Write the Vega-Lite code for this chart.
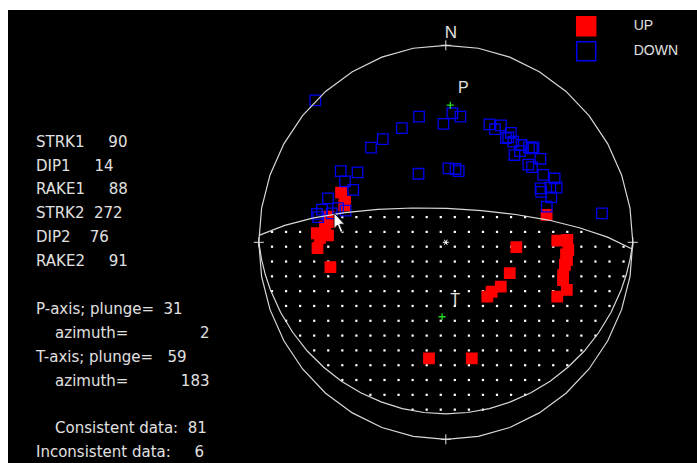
{
"$schema":"https://vega.github.io/schema/vega-lite/v6.json",
"width":697,"height":463,
"autosize":{"type":"fit","contains":"padding"},
"padding":{"left":8,"top":10,"right":0,"bottom":0},
"background":"white",
"config":{"view":{"stroke":null,"fill":"black"},"font":"Liberation Sans"},
"resolve":{"scale":{"x":"independent","y":"independent"}},
"datasets":{
"grid":[
{"r":0,"c":-8},{"r":0,"c":-7},{"r":0,"c":-6},{"r":0,"c":-5},{"r":0,"c":-4},{"r":0,"c":-3},{"r":0,"c":-2},{"r":0,"c":-1},{"r":0,"c":0},{"r":0,"c":1},{"r":0,"c":2},{"r":0,"c":3},{"r":0,"c":4},{"r":0,"c":5},{"r":0,"c":6},
{"r":1,"c":-12},{"r":1,"c":-11},{"r":1,"c":-10},{"r":1,"c":-9},{"r":1,"c":-8},{"r":1,"c":-7},{"r":1,"c":-6},{"r":1,"c":-5},{"r":1,"c":-4},{"r":1,"c":-3},{"r":1,"c":-2},{"r":1,"c":-1},{"r":1,"c":0},{"r":1,"c":1},{"r":1,"c":2},{"r":1,"c":3},{"r":1,"c":4},{"r":1,"c":5},{"r":1,"c":6},{"r":1,"c":7},{"r":1,"c":8},{"r":1,"c":9},{"r":1,"c":10},
{"r":2,"c":-12},{"r":2,"c":-11},{"r":2,"c":-10},{"r":2,"c":-9},{"r":2,"c":-8},{"r":2,"c":-7},{"r":2,"c":-6},{"r":2,"c":-5},{"r":2,"c":-4},{"r":2,"c":-3},{"r":2,"c":-2},{"r":2,"c":-1},{"r":2,"c":0},{"r":2,"c":1},{"r":2,"c":2},{"r":2,"c":3},{"r":2,"c":4},{"r":2,"c":5},{"r":2,"c":6},{"r":2,"c":7},{"r":2,"c":8},{"r":2,"c":9},{"r":2,"c":10},{"r":2,"c":11},{"r":2,"c":12},{"r":2,"c":13},
{"r":3,"c":-12},{"r":3,"c":-11},{"r":3,"c":-10},{"r":3,"c":-9},{"r":3,"c":-8},{"r":3,"c":-7},{"r":3,"c":-6},{"r":3,"c":-5},{"r":3,"c":-4},{"r":3,"c":-3},{"r":3,"c":-2},{"r":3,"c":-1},{"r":3,"c":0},{"r":3,"c":1},{"r":3,"c":2},{"r":3,"c":3},{"r":3,"c":4},{"r":3,"c":5},{"r":3,"c":6},{"r":3,"c":7},{"r":3,"c":8},{"r":3,"c":9},{"r":3,"c":10},{"r":3,"c":11},{"r":3,"c":12},{"r":3,"c":13},
{"r":4,"c":-12},{"r":4,"c":-11},{"r":4,"c":-10},{"r":4,"c":-9},{"r":4,"c":-8},{"r":4,"c":-7},{"r":4,"c":-6},{"r":4,"c":-5},{"r":4,"c":-4},{"r":4,"c":-3},{"r":4,"c":-2},{"r":4,"c":-1},{"r":4,"c":0},{"r":4,"c":1},{"r":4,"c":2},{"r":4,"c":3},{"r":4,"c":4},{"r":4,"c":5},{"r":4,"c":6},{"r":4,"c":7},{"r":4,"c":8},{"r":4,"c":9},{"r":4,"c":10},{"r":4,"c":11},{"r":4,"c":12},{"r":4,"c":13},
{"r":5,"c":-12},{"r":5,"c":-11},{"r":5,"c":-10},{"r":5,"c":-9},{"r":5,"c":-8},{"r":5,"c":-7},{"r":5,"c":-6},{"r":5,"c":-5},{"r":5,"c":-4},{"r":5,"c":-3},{"r":5,"c":-2},{"r":5,"c":-1},{"r":5,"c":0},{"r":5,"c":1},{"r":5,"c":2},{"r":5,"c":3},{"r":5,"c":4},{"r":5,"c":5},{"r":5,"c":6},{"r":5,"c":7},{"r":5,"c":8},{"r":5,"c":9},{"r":5,"c":10},{"r":5,"c":11},{"r":5,"c":12},
{"r":6,"c":-11},{"r":6,"c":-10},{"r":6,"c":-9},{"r":6,"c":-8},{"r":6,"c":-7},{"r":6,"c":-6},{"r":6,"c":-5},{"r":6,"c":-4},{"r":6,"c":-3},{"r":6,"c":-2},{"r":6,"c":-1},{"r":6,"c":0},{"r":6,"c":1},{"r":6,"c":2},{"r":6,"c":3},{"r":6,"c":4},{"r":6,"c":5},{"r":6,"c":6},{"r":6,"c":7},{"r":6,"c":8},{"r":6,"c":9},{"r":6,"c":10},{"r":6,"c":11},{"r":6,"c":12},
{"r":7,"c":-11},{"r":7,"c":-10},{"r":7,"c":-9},{"r":7,"c":-8},{"r":7,"c":-7},{"r":7,"c":-6},{"r":7,"c":-5},{"r":7,"c":-4},{"r":7,"c":-3},{"r":7,"c":-2},{"r":7,"c":-1},{"r":7,"c":0},{"r":7,"c":1},{"r":7,"c":2},{"r":7,"c":3},{"r":7,"c":4},{"r":7,"c":5},{"r":7,"c":6},{"r":7,"c":7},{"r":7,"c":8},{"r":7,"c":9},{"r":7,"c":10},{"r":7,"c":11},
{"r":8,"c":-10},{"r":8,"c":-9},{"r":8,"c":-8},{"r":8,"c":-7},{"r":8,"c":-6},{"r":8,"c":-5},{"r":8,"c":-4},{"r":8,"c":-3},{"r":8,"c":-2},{"r":8,"c":-1},{"r":8,"c":0},{"r":8,"c":1},{"r":8,"c":2},{"r":8,"c":3},{"r":8,"c":4},{"r":8,"c":5},{"r":8,"c":6},{"r":8,"c":7},{"r":8,"c":8},{"r":8,"c":9},{"r":8,"c":10},{"r":8,"c":11},
{"r":9,"c":-9},{"r":9,"c":-8},{"r":9,"c":-7},{"r":9,"c":-6},{"r":9,"c":-5},{"r":9,"c":-4},{"r":9,"c":-3},{"r":9,"c":-2},{"r":9,"c":-1},{"r":9,"c":0},{"r":9,"c":1},{"r":9,"c":2},{"r":9,"c":3},{"r":9,"c":4},{"r":9,"c":5},{"r":9,"c":6},{"r":9,"c":7},{"r":9,"c":8},{"r":9,"c":9},{"r":9,"c":10},
{"r":10,"c":-8},{"r":10,"c":-7},{"r":10,"c":-6},{"r":10,"c":-5},{"r":10,"c":-4},{"r":10,"c":-3},{"r":10,"c":-2},{"r":10,"c":-1},{"r":10,"c":0},{"r":10,"c":1},{"r":10,"c":2},{"r":10,"c":3},{"r":10,"c":4},{"r":10,"c":5},{"r":10,"c":6},{"r":10,"c":7},{"r":10,"c":8},{"r":10,"c":9},
{"r":11,"c":-7},{"r":11,"c":-6},{"r":11,"c":-5},{"r":11,"c":-4},{"r":11,"c":-3},{"r":11,"c":-2},{"r":11,"c":-1},{"r":11,"c":0},{"r":11,"c":1},{"r":11,"c":2},{"r":11,"c":3},{"r":11,"c":4},{"r":11,"c":5},{"r":11,"c":6},{"r":11,"c":7},
{"r":12,"c":-5},{"r":12,"c":-4},{"r":12,"c":-3},{"r":12,"c":-2},{"r":12,"c":-1},{"r":12,"c":0},{"r":12,"c":1},{"r":12,"c":2},{"r":12,"c":3},{"r":12,"c":4},{"r":12,"c":5},{"r":12,"c":6},
{"r":13,"c":-2},{"r":13,"c":-1},{"r":13,"c":0},{"r":13,"c":1},{"r":13,"c":2},{"r":13,"c":3}
],
"curves":[
{"curve":"net","i":0,"u":1,"v":0},{"curve":"net","i":1,"u":0.985,"v":0.174},{"curve":"net","i":2,"u":0.94,"v":0.342},{"curve":"net","i":3,"u":0.866,"v":0.5},{"curve":"net","i":4,"u":0.766,"v":0.643},{"curve":"net","i":5,"u":0.643,"v":0.766},{"curve":"net","i":6,"u":0.5,"v":0.866},{"curve":"net","i":7,"u":0.342,"v":0.94},{"curve":"net","i":8,"u":0.174,"v":0.985},{"curve":"net","i":9,"u":0,"v":1},{"curve":"net","i":10,"u":-0.174,"v":0.985},{"curve":"net","i":11,"u":-0.342,"v":0.94},{"curve":"net","i":12,"u":-0.5,"v":0.866},{"curve":"net","i":13,"u":-0.643,"v":0.766},{"curve":"net","i":14,"u":-0.766,"v":0.643},{"curve":"net","i":15,"u":-0.866,"v":0.5},{"curve":"net","i":16,"u":-0.94,"v":0.342},{"curve":"net","i":17,"u":-0.985,"v":0.174},{"curve":"net","i":18,"u":-1,"v":0},{"curve":"net","i":19,"u":-0.985,"v":-0.174},{"curve":"net","i":20,"u":-0.94,"v":-0.342},{"curve":"net","i":21,"u":-0.866,"v":-0.5},{"curve":"net","i":22,"u":-0.766,"v":-0.643},{"curve":"net","i":23,"u":-0.643,"v":-0.766},{"curve":"net","i":24,"u":-0.5,"v":-0.866},{"curve":"net","i":25,"u":-0.342,"v":-0.94},{"curve":"net","i":26,"u":-0.174,"v":-0.985},{"curve":"net","i":27,"u":0,"v":-1},{"curve":"net","i":28,"u":0.174,"v":-0.985},{"curve":"net","i":29,"u":0.342,"v":-0.94},{"curve":"net","i":30,"u":0.5,"v":-0.866},{"curve":"net","i":31,"u":0.643,"v":-0.766},{"curve":"net","i":32,"u":0.766,"v":-0.643},{"curve":"net","i":33,"u":0.866,"v":-0.5},{"curve":"net","i":34,"u":0.94,"v":-0.342},{"curve":"net","i":35,"u":0.985,"v":-0.174},{"curve":"net","i":36,"u":1,"v":0},
{"curve":"plane1","i":0,"u":1,"v":0},{"curve":"plane1","i":1,"u":0.986,"v":-0.084},{"curve":"plane1","i":2,"u":0.965,"v":-0.165},{"curve":"plane1","i":3,"u":0.937,"v":-0.244},{"curve":"plane1","i":4,"u":0.884,"v":-0.355},{"curve":"plane1","i":5,"u":0.818,"v":-0.458},{"curve":"plane1","i":6,"u":0.741,"v":-0.552},{"curve":"plane1","i":7,"u":0.653,"v":-0.634},{"curve":"plane1","i":8,"u":0.558,"v":-0.705},{"curve":"plane1","i":9,"u":0.455,"v":-0.764},{"curve":"plane1","i":10,"u":0.346,"v":-0.81},{"curve":"plane1","i":11,"u":0.233,"v":-0.844},{"curve":"plane1","i":12,"u":0.117,"v":-0.864},{"curve":"plane1","i":13,"u":0,"v":-0.871},{"curve":"plane1","i":14,"u":-0.117,"v":-0.864},{"curve":"plane1","i":15,"u":-0.233,"v":-0.844},{"curve":"plane1","i":16,"u":-0.346,"v":-0.81},{"curve":"plane1","i":17,"u":-0.455,"v":-0.764},{"curve":"plane1","i":18,"u":-0.558,"v":-0.705},{"curve":"plane1","i":19,"u":-0.653,"v":-0.634},{"curve":"plane1","i":20,"u":-0.741,"v":-0.552},{"curve":"plane1","i":21,"u":-0.818,"v":-0.458},{"curve":"plane1","i":22,"u":-0.884,"v":-0.355},{"curve":"plane1","i":23,"u":-0.937,"v":-0.244},{"curve":"plane1","i":24,"u":-0.965,"v":-0.165},{"curve":"plane1","i":25,"u":-0.986,"v":-0.084},{"curve":"plane1","i":26,"u":-1,"v":0},
{"curve":"plane2","i":0,"u":-0.999,"v":0.035},{"curve":"plane2","i":1,"u":-0.861,"v":0.086},{"curve":"plane2","i":2,"u":-0.707,"v":0.124},{"curve":"plane2","i":3,"u":-0.54,"v":0.151},{"curve":"plane2","i":4,"u":-0.363,"v":0.167},{"curve":"plane2","i":5,"u":-0.18,"v":0.174},{"curve":"plane2","i":6,"u":0.006,"v":0.172},{"curve":"plane2","i":7,"u":0.192,"v":0.161},{"curve":"plane2","i":8,"u":0.374,"v":0.141},{"curve":"plane2","i":9,"u":0.549,"v":0.113},{"curve":"plane2","i":10,"u":0.714,"v":0.074},{"curve":"plane2","i":11,"u":0.865,"v":0.026},{"curve":"plane2","i":12,"u":0.999,"v":-0.035}
],
"obs":[
{"pol":"UP","u":-0.56,"v":0.252},{"pol":"UP","u":-0.539,"v":0.206},{"pol":"UP","u":-0.543,"v":0.187},{"pol":"UP","u":-0.628,"v":0.13},{"pol":"UP","u":-0.619,"v":0.103},{"pol":"UP","u":-0.646,"v":0.079},{"pol":"UP","u":-0.69,"v":0.046},{"pol":"UP","u":-0.646,"v":0.054},{"pol":"UP","u":-0.673,"v":0.022},{"pol":"UP","u":-0.63,"v":0.035},{"pol":"UP","u":-0.686,"v":-0.03},{"pol":"UP","u":-0.617,"v":-0.126},
{"pol":"UP","u":0.539,"v":0.139},{"pol":"UP","u":0.377,"v":-0.025},{"pol":"UP","u":0.342,"v":-0.157},{"pol":"UP","u":0.294,"v":-0.225},{"pol":"UP","u":0.245,"v":-0.251},{"pol":"UP","u":0.222,"v":-0.276},
{"pol":"UP","u":0.596,"v":0.008},{"pol":"UP","u":0.65,"v":0.012},{"pol":"UP","u":0.655,"v":-0.039},{"pol":"UP","u":0.643,"v":-0.061},{"pol":"UP","u":0.648,"v":-0.09},{"pol":"UP","u":0.637,"v":-0.115},{"pol":"UP","u":0.628,"v":-0.166},{"pol":"UP","u":0.627,"v":-0.192},{"pol":"UP","u":0.647,"v":-0.242},{"pol":"UP","u":0.596,"v":-0.276},
{"pol":"UP","u":-0.09,"v":-0.589},{"pol":"UP","u":0.139,"v":-0.589},
{"pol":"DOWN","u":-0.698,"v":0.72},{"pol":"DOWN","u":-0.143,"v":0.638},{"pol":"DOWN","u":0.035,"v":0.655},{"pol":"DOWN","u":0.078,"v":0.638},{"pol":"DOWN","u":-0.013,"v":0.601},{"pol":"DOWN","u":-0.235,"v":0.58},{"pol":"DOWN","u":-0.337,"v":0.524},{"pol":"DOWN","u":-0.4,"v":0.481},{"pol":"DOWN","u":-0.146,"v":0.348},{"pol":"DOWN","u":0.014,"v":0.375},{"pol":"DOWN","u":0.052,"v":0.372},{"pol":"DOWN","u":0.069,"v":0.361},
{"pol":"DOWN","u":0.233,"v":0.599},{"pol":"DOWN","u":0.295,"v":0.594},{"pol":"DOWN","u":0.263,"v":0.574},{"pol":"DOWN","u":0.348,"v":0.556},{"pol":"DOWN","u":0.334,"v":0.533},{"pol":"DOWN","u":0.322,"v":0.529},{"pol":"DOWN","u":0.361,"v":0.511},{"pol":"DOWN","u":0.405,"v":0.494},{"pol":"DOWN","u":0.445,"v":0.482},{"pol":"DOWN","u":0.461,"v":0.477},{"pol":"DOWN","u":0.469,"v":0.482},{"pol":"DOWN","u":0.397,"v":0.463},{"pol":"DOWN","u":0.367,"v":0.443},{"pol":"DOWN","u":0.506,"v":0.424},{"pol":"DOWN","u":0.441,"v":0.394},{"pol":"DOWN","u":0.461,"v":0.382},{"pol":"DOWN","u":0.521,"v":0.342},{"pol":"DOWN","u":0.582,"v":0.324},{"pol":"DOWN","u":0.507,"v":0.274},{"pol":"DOWN","u":0.559,"v":0.278},{"pol":"DOWN","u":0.593,"v":0.278},{"pol":"DOWN","u":0.51,"v":0.256},{"pol":"DOWN","u":0.564,"v":0.228},{"pol":"DOWN","u":0.54,"v":0.181},{"pol":"DOWN","u":0.835,"v":0.147},
{"pol":"DOWN","u":-0.562,"v":0.361},{"pol":"DOWN","u":-0.472,"v":0.355},{"pol":"DOWN","u":-0.539,"v":0.309},{"pol":"DOWN","u":-0.495,"v":0.266},{"pol":"DOWN","u":-0.63,"v":0.223},{"pol":"DOWN","u":-0.662,"v":0.166},{"pol":"DOWN","u":-0.689,"v":0.144},{"pol":"DOWN","u":-0.576,"v":0.174},{"pol":"DOWN","u":-0.536,"v":0.161},{"pol":"DOWN","u":-0.61,"v":0.147},{"pol":"DOWN","u":-0.682,"v":0.128}
],
"axes":[{"name":"P","u":0.024,"v":0.696},{"name":"T","u":-0.02,"v":-0.378}],
"compass":[{"dir":"N","u":0,"v":1},{"dir":"E","u":1,"v":0},{"dir":"S","u":0,"v":-1},{"dir":"W","u":-1,"v":0}],
"params":[
{"line":0,"text":"STRK1\u00a0\u00a0\u00a0\u00a0\u00a090"},
{"line":1,"text":"DIP1\u00a0\u00a0\u00a0\u00a0\u00a014"},
{"line":2,"text":"RAKE1\u00a0\u00a0\u00a0\u00a0\u00a088"},
{"line":3,"text":"STRK2\u00a0\u00a0272"},
{"line":4,"text":"DIP2\u00a0\u00a0\u00a0\u00a076"},
{"line":5,"text":"RAKE2\u00a0\u00a0\u00a0\u00a0\u00a091"},
{"line":7,"text":"P-axis; plunge=\u00a0\u00a031"},
{"line":8,"text":"\u200b\u00a0\u00a0\u00a0\u00a0azimuth=\u00a0\u00a0\u00a0\u00a0\u00a0\u00a0\u00a0\u00a0\u00a0\u00a0\u00a0\u00a0\u00a0\u00a0\u00a02"},
{"line":9,"text":"T-axis; plunge=\u00a0\u00a0\u00a059"},
{"line":10,"text":"\u200b\u00a0\u00a0\u00a0\u00a0azimuth=\u00a0\u00a0\u00a0\u00a0\u00a0\u00a0\u00a0\u00a0\u00a0\u00a0\u00a0183"},
{"line":12,"text":"\u200b\u00a0\u00a0\u00a0\u00a0Consistent data:\u00a0\u00a081"},
{"line":13,"text":"Inconsistent data:\u00a0\u00a0\u00a0\u00a0\u00a06"}
],
"cursor":[{"u":-0.568,"v":0.098}]
},
"layer":[
{"data":{"name":"grid"},
 "mark":{"type":"point","shape":"square","filled":true,"color":"#ffffff","size":5,"strokeWidth":0,"opacity":1},
 "encoding":{
  "x":{"field":"c","type":"quantitative","scale":{"domain":[-30.775,18.223],"nice":false,"zero":false},"axis":null},
  "y":{"field":"r","type":"quantitative","scale":{"domain":[-13.979,16.601],"reverse":true,"nice":false,"zero":false},"axis":null}}},
{"data":{"name":"obs"},
 "mark":{"type":"point","shape":"square","filled":true,"size":110,"strokeWidth":1.3,"opacity":1},
 "encoding":{
  "x":{"field":"u","type":"quantitative","scale":{"domain":[-2.3412,1.3433],"nice":false,"zero":false},"axis":null},
  "y":{"field":"v","type":"quantitative","scale":{"domain":[-1.1203,1.1792],"nice":false,"zero":false},"axis":null},
  "fill":{"field":"pol","type":"nominal","scale":{"domain":["UP","DOWN"],"range":["#ff0000","transparent"]},
   "legend":{"orient":"none","legendX":567.7,"legendY":5.7,"title":null,"padding":0,"symbolType":"square","symbolSize":361,"symbolStrokeWidth":1.5,"labelFontSize":14,"labelColor":"#e0e0e0","labelFont":"Liberation Sans","labelOffset":37,"rowPadding":0}},
  "stroke":{"field":"pol","type":"nominal","scale":{"domain":["UP","DOWN"],"range":["#ff0000","#0000f0"]},
   "legend":{"orient":"none","legendX":567.7,"legendY":5.7,"title":null,"padding":0,"symbolType":"square","symbolSize":361,"symbolStrokeWidth":1.5,"labelFontSize":14,"labelColor":"#e0e0e0","labelFont":"Liberation Sans","labelOffset":37,"rowPadding":0}}}},
{"data":{"name":"curves"},
 "mark":{"type":"line","color":"#d8d8d8","strokeWidth":1.2},
 "encoding":{
  "x":{"field":"u","type":"quantitative","scale":{"domain":[-2.3412,1.3433],"nice":false,"zero":false},"axis":null},
  "y":{"field":"v","type":"quantitative","scale":{"domain":[-1.1203,1.1792],"nice":false,"zero":false},"axis":null},
  "detail":{"field":"curve","type":"nominal"},
  "order":{"field":"i","type":"quantitative"}}},
{"data":{"name":"compass"},
 "mark":{"type":"point","shape":"M-1,0L1,0M0,-1L0,1","filled":false,"stroke":"#e0e0e0","strokeWidth":1,"size":100,"opacity":1},
 "encoding":{
  "x":{"field":"u","type":"quantitative","scale":{"domain":[-2.3412,1.3433],"nice":false,"zero":false},"axis":null},
  "y":{"field":"v","type":"quantitative","scale":{"domain":[-1.1203,1.1792],"nice":false,"zero":false},"axis":null}}},
{"data":{"name":"compass"},
 "transform":[{"filter":"datum.dir === 'N'"}],
 "mark":{"type":"text","dx":5,"dy":-12,"fontSize":17,"color":"#e0e0e0","baseline":"middle","align":"center"},
 "encoding":{
  "x":{"field":"u","type":"quantitative","scale":{"domain":[-2.3412,1.3433],"nice":false,"zero":false},"axis":null},
  "y":{"field":"v","type":"quantitative","scale":{"domain":[-1.1203,1.1792],"nice":false,"zero":false},"axis":null},
  "text":{"field":"dir"}}},
{"data":{"values":[{"u":0,"v":0}]},
 "mark":{"type":"point","shape":"M-1,0L1,0M-0.5,-0.87L0.5,0.87M-0.5,0.87L0.5,-0.87","filled":false,"stroke":"#ffffff","strokeWidth":1,"size":36,"opacity":1},
 "encoding":{
  "x":{"field":"u","type":"quantitative","scale":{"domain":[-2.3412,1.3433],"nice":false,"zero":false},"axis":null},
  "y":{"field":"v","type":"quantitative","scale":{"domain":[-1.1203,1.1792],"nice":false,"zero":false},"axis":null}}},
{"data":{"name":"axes"},
 "mark":{"type":"point","shape":"M-1,0L1,0M0,-1L0,1","filled":false,"stroke":"#22dd22","strokeWidth":1.3,"size":49,"opacity":1},
 "encoding":{
  "x":{"field":"u","type":"quantitative","scale":{"domain":[-2.3412,1.3433],"nice":false,"zero":false},"axis":null},
  "y":{"field":"v","type":"quantitative","scale":{"domain":[-1.1203,1.1792],"nice":false,"zero":false},"axis":null}}},
{"data":{"name":"axes"},
 "mark":{"type":"text","dx":13,"dy":-17,"fontSize":16,"color":"#e0e0e0","baseline":"middle","align":"center"},
 "encoding":{
  "x":{"field":"u","type":"quantitative","scale":{"domain":[-2.3412,1.3433],"nice":false,"zero":false},"axis":null},
  "y":{"field":"v","type":"quantitative","scale":{"domain":[-1.1203,1.1792],"nice":false,"zero":false},"axis":null},
  "text":{"field":"name"}}},
{"data":{"name":"cursor"},
 "mark":{"type":"point","shape":"M-0.55,-1L-0.55,0.55L-0.2,0.2L0.1,0.95L0.32,0.85L0.02,0.12L0.5,0.12Z","filled":true,"fill":"#ffffff","stroke":"#000000","strokeWidth":0.8,"size":400,"opacity":1},
 "encoding":{
  "x":{"field":"u","type":"quantitative","scale":{"domain":[-2.3412,1.3433],"nice":false,"zero":false},"axis":null},
  "y":{"field":"v","type":"quantitative","scale":{"domain":[-1.1203,1.1792],"nice":false,"zero":false},"axis":null}}},
{"data":{"name":"params"},
 "mark":{"type":"text","align":"left","baseline":"middle","fontSize":15,"font":"DejaVu Sans","color":"#e0e0e0"},
 "encoding":{
  "x":{"datum":-2.1914,"type":"quantitative","scale":{"domain":[-2.3412,1.3433],"nice":false,"zero":false},"axis":null},
  "y":{"field":"line","type":"quantitative","scale":{"domain":[-5.51,13.444],"reverse":true,"nice":false,"zero":false},"axis":null},
  "text":{"field":"text"}}}
]
}
